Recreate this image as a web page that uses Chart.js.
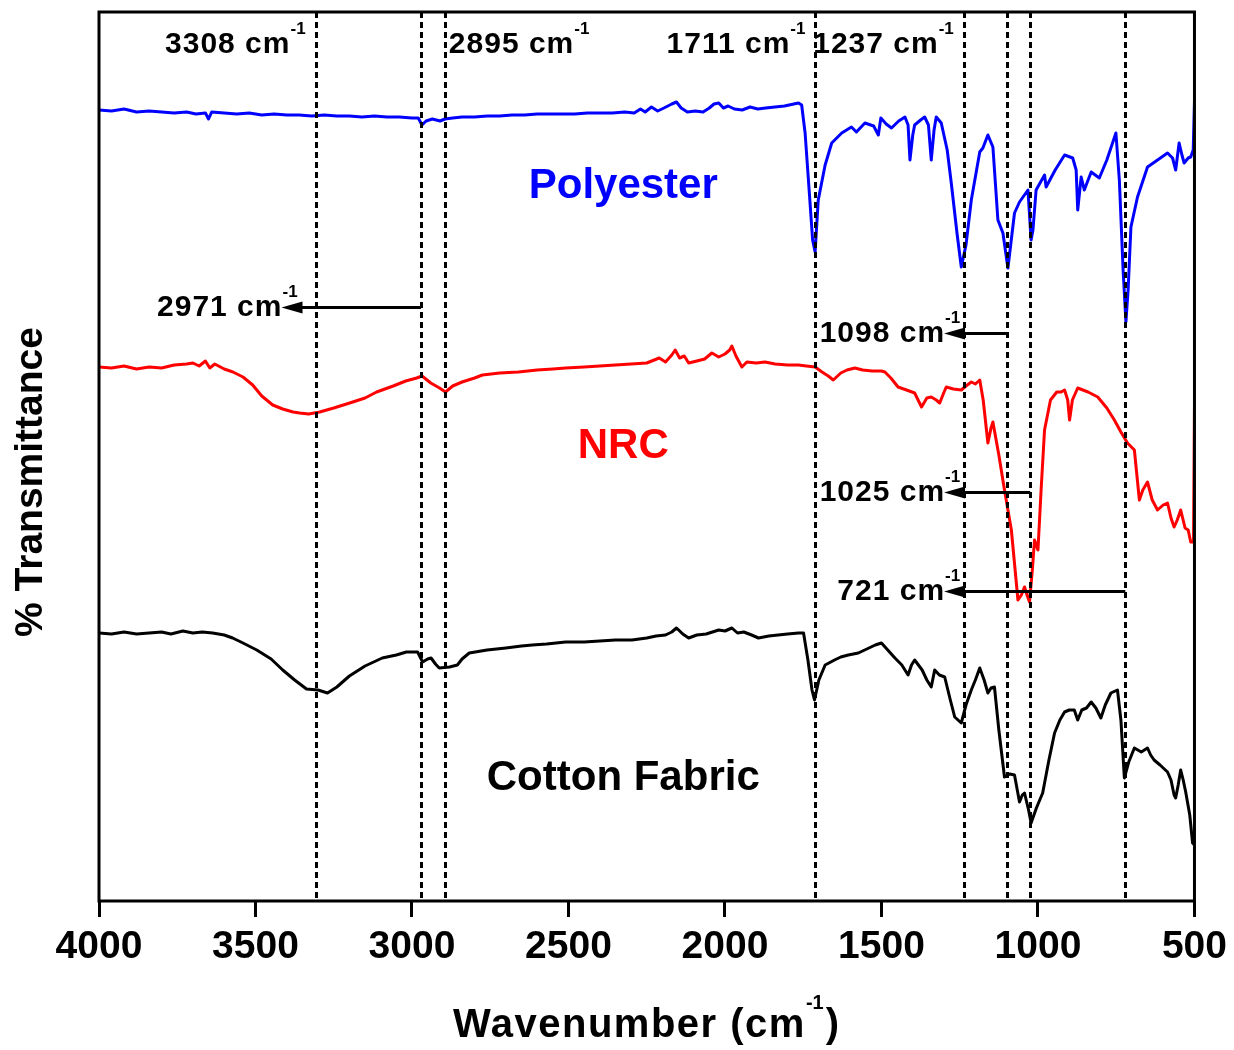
<!DOCTYPE html>
<html>
<head>
<meta charset="utf-8">
<title>FTIR spectra</title>
<script src="https://cdn.jsdelivr.net/npm/chart.js@4.4.1/dist/chart.umd.min.js"></script>
<style>
	html, body { margin: 0; padding: 0; background: #fff; }
	canvas { display: block; }
</style>
</head>
<body>
<canvas id="ftirChart" width="1234" height="1050"></canvas>
<script>
// Wavenumbers (cm-1) and transmittance (arbitrary offset units)
const polyesterWn = [4000,3960,3920,3880,3840,3800,3760,3720,3690,3660,3650,3640,3600,3560,3520,3480,3440,3400,3360,3320,3280,3240,3200,3160,3120,3080,3040,3000,2980,2968,2955,2935,2910,2895,2870,2840,2800,2760,2720,2680,2640,2600,2560,2520,2480,2440,2400,2360,2320,2290,2270,2255,2235,2215,2195,2170,2155,2140,2120,2095,2070,2050,2035,2020,2005,1990,1970,1945,1920,1895,1870,1840,1810,1780,1765,1755,1744,1730,1720,1712,1702,1680,1659,1627,1596,1580,1553,1525,1510,1502,1485,1468,1445,1425,1415,1409,1400,1394,1375,1362,1350,1341,1332,1325,1309,1290,1277,1258,1245,1230,1213,1186,1176,1160,1144,1128,1112,1096,1075,1059,1032,1022,1016,1006,979,974,945,915,889,878,873,862,852,830,804,780,751,740,728,719,712,703,682,650,618,586,570,560,549,540,533,520,512,504,500];
const polyesterT = [791,790,792,789,790,789,788,789,787,788,782,789,788,787,788,786,787,786,786,785,786,785,785,784,785,784,784,783,783,776,780,782,780,782,783,784,784,785,785,786,786,787,787,787,787,788,788,788,789,788,792,789,794,790,793,797,799,793,789,790,789,793,797,798,793,795,792,791,794,792,793,794,795,797,798,796,768,706,661,649,701,736,758,768,774,769,778,775,766,783,777,773,780,784,776,741,766,776,781,784,776,741,771,784,778,751,718,666,634,656,701,749,753,766,754,681,668,633,688,699,711,661,671,711,726,714,731,746,743,731,691,724,711,729,723,741,768,721,631,579,611,674,704,734,741,748,743,731,758,746,738,743,744,751,799];

const nrcWn = [4000,3960,3920,3880,3840,3800,3760,3720,3700,3680,3660,3646,3630,3600,3572,3540,3509,3480,3445,3413,3380,3359,3330,3295,3250,3199,3150,3113,3060,3020,2985,2968,2940,2912,2893,2870,2840,2800,2775,2720,2660,2600,2550,2509,2450,2400,2350,2300,2250,2210,2190,2170,2159,2145,2130,2116,2090,2065,2042,2020,2000,1985,1978,1965,1946,1930,1900,1872,1840,1800,1765,1740,1712,1690,1670,1654,1630,1610,1585,1560,1530,1500,1489,1470,1447,1420,1394,1372,1355,1341,1325,1314,1300,1293,1270,1245,1230,1213,1200,1186,1175,1160,1150,1144,1125,1107,1085,1064,1053,1043,1035,1027,1018,1011,1000,990,979,960,940,926,915,905,899,890,873,840,809,780,756,735,714,692,676,665,650,635,618,600,586,575,565,555,544,530,520,512,503,500];
const nrcT = [534,533,535,532,534,533,536,537,538,535,540,533,537,532,529,524,516,505,496,492,489,488,487,489,493,498,503,509,515,520,523,525,518,513,509,515,519,523,526,528,529,531,532,533,534,535,536,537,538,543,539,546,551,543,545,538,540,542,548,544,547,551,555,545,534,539,538,539,537,536,536,535,534,529,525,521,528,531,533,531,530,530,529,523,514,511,508,494,503,504,501,498,509,514,512,511,515,519,517,521,501,458,473,479,446,411,371,301,306,314,306,299,331,361,351,411,471,501,509,509,511,501,481,501,513,509,504,493,481,469,458,451,401,411,419,401,391,396,398,383,374,381,391,373,371,359,359,494];

const cottonWn = [4000,3960,3920,3880,3840,3800,3770,3732,3700,3670,3637,3600,3573,3540,3496,3450,3413,3375,3337,3300,3270,3240,3200,3150,3095,3050,3018,2982,2966,2950,2939,2925,2913,2880,2855,2840,2817,2760,2700,2650,2616,2570,2509,2450,2400,2350,2297,2250,2220,2190,2170,2155,2148,2135,2116,2090,2060,2040,2020,2000,1978,1960,1940,1915,1893,1860,1830,1800,1765,1749,1735,1722,1714,1700,1680,1650,1630,1606,1574,1540,1520,1500,1480,1457,1435,1415,1404,1394,1370,1355,1341,1330,1315,1298,1280,1266,1245,1230,1213,1200,1186,1172,1160,1150,1139,1125,1107,1090,1075,1059,1050,1043,1030,1022,1005,985,965,947,930,915,900,884,873,860,845,830,815,799,785,767,746,735,724,710,692,670,650,640,629,610,586,575,565,560,552,544,536,528,515,506,500];
const cottonT = [268,267,269,267,268,269,267,270,268,269,268,266,263,258,251,242,231,221,212,211,208,214,225,235,243,246,249,249,239,242,243,237,233,234,236,242,248,251,253,255,256,257,259,259,260,261,261,263,265,266,269,273,271,267,263,266,267,269,271,270,273,268,269,266,263,265,266,267,268,268,241,211,201,221,236,241,244,246,248,253,256,258,251,243,236,226,236,241,231,221,214,231,226,224,201,184,178,196,211,221,233,221,208,213,214,171,124,127,126,99,106,108,91,78,93,108,141,168,181,189,191,191,181,191,193,199,193,183,196,208,211,181,123,139,153,149,153,146,141,136,129,121,106,103,116,131,121,109,86,58,56];

const xTicks = [4000, 3500, 3000, 2500, 2000, 1500, 1000, 500];
const peakLines = [3308, 2971, 2895, 1711, 1237, 1098, 1025, 721];

// labels along the top edge
const topLabels = [
	{ text: '3308', at: 3308, side: 'left' },
	{ text: '2895', at: 2895, side: 'right' },
	{ text: '1711', at: 1711, side: 'left' },
	{ text: '1237', at: 1237, side: 'left' }
];
// arrows pointing left from a peak line to a label
const arrowLabels = [
	{ text: '2971', from: 2971, to: 3417, level: 594 },
	{ text: '1098', from: 1098, to: 1300, level: 568 },
	{ text: '1025', from: 1025, to: 1300, level: 409 },
	{ text: '721', from: 721, to: 1300, level: 310 }
];
const seriesNames = [
	{ text: 'Polyester', at: 2325, level: 703, color: '#0000ff' },
	{ text: 'NRC', at: 2325, level: 443, color: '#ff0000' },
	{ text: 'Cotton Fabric', at: 2325, level: 111, color: '#000000' }
];

const FONT = '"Liberation Sans", Arial, Helvetica, sans-serif';

function toPoints(wn, t) {
	return wn.map((w, i) => ({ x: w, y: t[i] }));
}

function drawCm(ctx, num, x, y, align) {
	const size = 30, supSize = 17, supRise = 19, gap = 1;
	ctx.font = 'bold ' + size + 'px ' + FONT;
	ctx.letterSpacing = '1px';
	const main = num + ' cm';
	const mw = ctx.measureText(main).width - 1;
	ctx.font = 'bold ' + supSize + 'px ' + FONT;
	ctx.letterSpacing = '0px';
	const sw = ctx.measureText('-1').width;
	let left = x;
	if (align === 'right') left = x - mw - gap - sw;
	if (align === 'mainright') left = x - mw;
	ctx.textAlign = 'left';
	ctx.textBaseline = 'alphabetic';
	ctx.font = 'bold ' + size + 'px ' + FONT;
	ctx.letterSpacing = '1px';
	ctx.fillText(main, left, y);
	ctx.font = 'bold ' + supSize + 'px ' + FONT;
	ctx.letterSpacing = '0px';
	ctx.fillText('-1', left + mw + gap, y - supRise);
}

const annotationPlugin = {
	id: 'ftirAnnotations',
	afterDatasetsDraw(chart) {
		const ctx = chart.ctx;
		const xs = chart.scales.x;
		const ys = chart.scales.y;
		const area = chart.chartArea;
		ctx.save();
		ctx.fillStyle = '#000';
		ctx.strokeStyle = '#000';

		// dashed peak lines
		ctx.lineWidth = 3;
		ctx.setLineDash([6, 4]);
		peakLines.forEach(w => {
			const px = Math.round(xs.getPixelForValue(w)) + 0.5;
			ctx.beginPath();
			ctx.moveTo(px, area.top);
			ctx.lineTo(px, area.bottom);
			ctx.stroke();
		});
		ctx.setLineDash([]);

		// top labels
		topLabels.forEach(l => {
			const px = xs.getPixelForValue(l.at);
			if (l.side === 'left') drawCm(ctx, l.text, px - 10, 53, 'right');
			else drawCm(ctx, l.text, px + 4, 53, 'left');
		});

		// arrows
		arrowLabels.forEach(a => {
			const x0 = xs.getPixelForValue(a.from);
			const x1 = xs.getPixelForValue(a.to);
			const py = Math.round(ys.getPixelForValue(a.level)) + 0.5;
			ctx.lineWidth = 3;
			ctx.beginPath();
			ctx.moveTo(x0, py);
			ctx.lineTo(x1 + 15, py);
			ctx.stroke();
			ctx.beginPath();
			ctx.moveTo(x1, py);
			ctx.lineTo(x1 + 21, py - 6);
			ctx.lineTo(x1 + 21, py + 6);
			ctx.closePath();
			ctx.fill();
			drawCm(ctx, a.text, x1, py + 8, 'mainright');
		});

		// series names
		ctx.letterSpacing = '0px';
		ctx.textAlign = 'center';
		ctx.textBaseline = 'alphabetic';
		ctx.font = 'bold 42px ' + FONT;
		seriesNames.forEach(s => {
			ctx.fillStyle = s.color;
			ctx.fillText(s.text, xs.getPixelForValue(s.at), ys.getPixelForValue(s.level));
		});
		ctx.restore();
	},
	afterDraw(chart) {
		const ctx = chart.ctx;
		const area = chart.chartArea;
		ctx.save();
		// frame
		ctx.strokeStyle = '#000';
		ctx.lineWidth = 3;
		ctx.strokeRect(area.left, area.top, area.right - area.left, area.bottom - area.top);

		// axis titles
		ctx.fillStyle = '#000';
		ctx.textBaseline = 'alphabetic';
		const big = 'bold 40px ' + FONT;
		const sup = 'bold 20px ' + FONT;
		ctx.font = big;
		ctx.letterSpacing = '1.5px';
		const t1 = 'Wavenumber (cm';
		const w1 = ctx.measureText(t1).width;
		const w3 = ctx.measureText(')').width;
		ctx.font = sup;
		ctx.letterSpacing = '0px';
		const w2 = ctx.measureText('-1').width;
		const cx = (area.left + area.right) / 2;
		const left = cx - (w1 + w2 + 2 + w3) / 2;
		ctx.textAlign = 'left';
		ctx.font = big;
		ctx.letterSpacing = '1.5px';
		ctx.fillText(t1, left, 1037);
		ctx.font = sup;
		ctx.letterSpacing = '0px';
		ctx.fillText('-1', left + w1, 1009);
		ctx.font = big;
		ctx.letterSpacing = '1.5px';
		ctx.fillText(')', left + w1 + w2 + 2, 1037);

		ctx.letterSpacing = '0px';
		ctx.translate(42, 482);
		ctx.rotate(-Math.PI / 2);
		ctx.textAlign = 'center';
		ctx.font = 'bold 39px ' + FONT;
		ctx.fillText('% Transmittance', 0, 0);
		ctx.restore();
	}
};

window.addEventListener('load', function() {
	const ctx = document.getElementById('ftirChart');
	new Chart(ctx, {
		type: 'line',
		data: {
			datasets: [
				{ label: 'Polyester', data: toPoints(polyesterWn, polyesterT), borderColor: '#0000ff' },
				{ label: 'NRC', data: toPoints(nrcWn, nrcT), borderColor: '#ff0000' },
				{ label: 'Cotton Fabric', data: toPoints(cottonWn, cottonT), borderColor: '#000000' }
			]
		},
		options: {
			responsive: false,
			animation: false,
			devicePixelRatio: 1,
			layout: { padding: { left: 0, right: 37, top: 12, bottom: 0 } },
			elements: {
				line: { borderWidth: 3, tension: 0, fill: false, borderJoinStyle: 'round' },
				point: { radius: 0 }
			},
			plugins: {
				legend: { display: false },
				tooltip: { enabled: false }
			},
			scales: {
				x: {
					type: 'linear',
					reverse: true,
					min: 500,
					max: 4000,
					afterBuildTicks: axis => { axis.ticks = xTicks.map(v => ({ value: v })); },
					afterFit: axis => { axis.height = 149; },
					border: { display: false },
					grid: {
						display: true,
						drawOnChartArea: false,
						drawTicks: true,
						tickLength: 16,
						color: '#000',
						lineWidth: 3
					},
					ticks: {
						color: '#000',
						padding: 7,
						maxRotation: 0,
						callback: v => String(v),
						font: { family: FONT, size: 39, weight: 'bold' }
					}
				},
				y: {
					min: 0,
					max: 889,
					afterFit: axis => { axis.width = 99; },
					border: { display: false },
					grid: { display: false },
					ticks: { display: false }
				}
			}
		},
		plugins: [annotationPlugin]
	});
});
</script>
</body>
</html>
